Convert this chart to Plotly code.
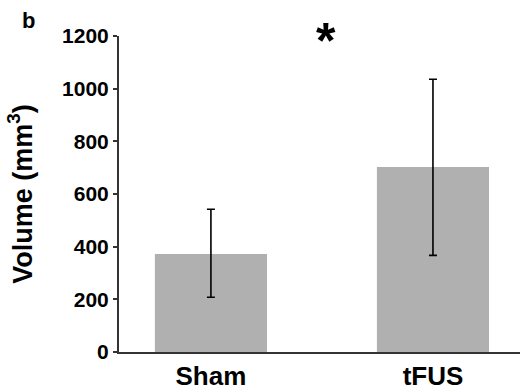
import plotly.graph_objects as go

categories = ["Sham", "tFUS"]
means = [372, 703]
err_plus = [170, 333]
err_minus = [164, 336]
y_ticks = [0, 200, 400, 600, 800, 1000, 1200]

FONT = "Liberation Sans, Arial, sans-serif"

fig = go.Figure()
fig.add_trace(go.Bar(
    x=[0, 1], y=means, width=0.505,
    marker=dict(color="#b0b0b0", line=dict(width=0)),
    error_y=dict(type="data", symmetric=False, array=err_plus, arrayminus=err_minus,
                 color="black", thickness=1.6, width=4),
))

fig.update_layout(
    width=520, height=390,
    margin=dict(l=119, r=0, t=36, b=38),
    paper_bgcolor="white", plot_bgcolor="white",
    showlegend=False,
    font=dict(family=FONT, color="black"),
    xaxis=dict(
        range=[-0.414, 1.392], tickmode="array", tickvals=[0, 1], ticktext=categories,
        showline=True, linecolor="#333333", linewidth=2, showgrid=False, zeroline=False,
        ticks="", automargin=False,
        tickfont=dict(family=FONT, size=26, color="black", weight="bold"),
    ),
    yaxis=dict(
        range=[0, 1200], tickmode="array", tickvals=y_ticks, automargin=False,
        showline=True, linecolor="#333333", linewidth=2, showgrid=False, zeroline=False,
        ticks="outside", ticklen=4, tickcolor="#333333", tickwidth=1.5,
        tickfont=dict(family=FONT, size=21, color="black", weight="bold"),
        title=dict(text="Volume (mm<sup>3</sup>)", standoff=22,
                   font=dict(family=FONT, size=27, color="black", weight="bold")),
    ),
)

fig.add_annotation(x=0.52, y=1.0, xref="x", yref="paper", text="*", showarrow=False,
                   font=dict(family=FONT, size=50, color="black", weight="bold"),
                   xanchor="center", yanchor="middle", yshift=-5)
fig.add_annotation(x=-0.225, y=1.05, xref="paper", yref="paper", text="b", showarrow=False,
                   xanchor="center", yanchor="middle",
                   font=dict(family=FONT, size=22, color="black", weight="bold"))

fig.write_html("out.html", config={"displayModeBar": False},
               post_script="document.body.style.margin='0px';")
